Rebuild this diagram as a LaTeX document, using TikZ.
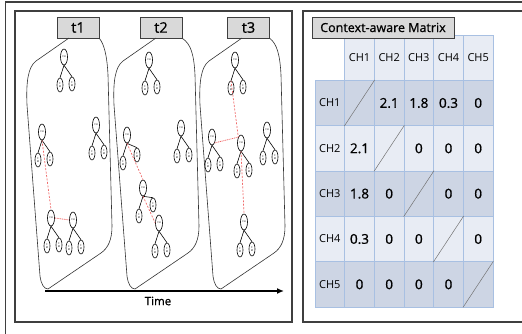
\documentclass[tikz,border=0pt]{standalone}
\usepackage{fontspec}
\setmainfont{Open Sans}[BoldFont=Open Sans,BoldFeatures={FakeBold=0.9}]
\usetikzlibrary{shapes.geometric,calc,arrows.meta}

\definecolor{framegray}{HTML}{3F3F3F}
\definecolor{tabgray}{HTML}{D9D9D9}
\definecolor{rowdark}{HTML}{CDD5E4}
\definecolor{rowlight}{HTML}{E8ECF4}
\definecolor{gridblue}{HTML}{A8C0E2}
\definecolor{linkred}{HTML}{F06A6A}

% one cluster: head CH with two members
\newcommand{\chtree}[3][8,27]{%
  \node[chroot] (#2) at (#3) {CH};
  \node[chleaf] (#2l) at ($(#2)+(-4,28)$) {C\\M};
  \node[chleaf] (#2r) at ($(#2)+(#1)$) {C\\M};
  \draw[treeedge] (#2.south) -- (#2l.north);
  \draw[treeedge] (#2.south) -- (#2r.north);
}

\begin{document}
\begin{tikzpicture}[x=1pt,y=-1pt,
  every node/.style={inner sep=0pt},
  chroot/.style={draw,ellipse,line width=0.6pt,fill=white,minimum width=7pt,minimum height=16pt,font=\fontsize{2.5}{2.8}\selectfont},
  chleaf/.style={draw,ellipse,line width=0.6pt,fill=white,minimum width=6pt,minimum height=14pt,align=center,font=\fontsize{2.5}{2.8}\selectfont},
  treeedge/.style={line width=0.6pt},
  redlink/.style={linkred,line width=0.7pt,dash pattern=on 2pt off 1.5pt},
  reddot/.style={linkred,line width=0.8pt,dash pattern=on 1pt off 0.8pt},
  slab/.style={line width=0.6pt,black!80},
  tabbox/.style={draw=framegray,line width=0.8pt,fill=tabgray,minimum width=42pt,minimum height=21pt,font=\fontsize{14.5}{16}\selectfont\bfseries},
  cell/.style={draw=gridblue,line width=0.6pt,minimum width=29.67pt,minimum height=45.33pt},
  diag/.style={black!55,line width=0.5pt}]
\useasboundingbox (0,0) rectangle (522,333);
\clip (0,0) rectangle (522,333);

% frames
\draw[framegray,line width=1.8pt] (5.5,345) -- (5.5,2) -- (540,2);
\draw[framegray,line width=1.2pt] (15,11) rectangle (292,322);
\draw[framegray,line width=1.2pt] (303,11) rectangle (540,322);

% time slots
\node[tabbox] (tab1) at (78,27.5) {t1};
\node[tabbox] (tab2) at (161,27.5) {t2};
\node[tabbox] (tab3) at (248.5,27.5) {t3};

\foreach \s/\t in {0/1,87/2,173/3} {
  \begin{scope}[xshift=\s pt]
    \draw[slab] (69,38) -- (36,61) .. controls (28,67) and (26,82) .. (27,105)
      -- (40,276) .. controls (41,284) and (44,289) .. (48,289)
      -- (101,253) .. controls (108,248) and (112,240) .. (112,226)
      -- (108,75) .. controls (107,55) and (104,44) .. (tab\t.south east);
  \end{scope}
}

% t1
\chtree{t1a}{64,57}
\chtree{t1b}{42,132}
\chtree{t1c}{96,125}
\chtree{t1d}{51,218}
\chtree{t1e}{73,220}
\draw[redlink] (t1b.south) -- (t1d.north);
\draw[reddot] (t1d.east) -- (t1e.west);

% t2
\chtree{t2a}{149,60}
\chtree[10,20]{t2b}{127,135}
\chtree{t2c}{181,128}
\chtree[10,17]{t2d}{143,188}
\chtree{t2e}{159,223}
\draw[redlink] (t2b.south) -- (t2d.north);
\draw[redlink] (t2d.south) -- (t2e.west);

% t3
\chtree{t3a}{235,60}
\chtree{t3b}{212,137}
\chtree{t3c}{241,143}
\chtree{t3d}{267,130}
\chtree{t3e}{244,222}
\draw[redlink] (t3al.north) -- (t3c.north west);
\draw[reddot] (t3b.south east) -- (t3c.north west);
\draw[redlink] (t3c.south) -- (t3e.north);

% time axis
\coordinate (tstart) at (45,291);
\coordinate (tend) at (284,291);
\draw[line width=1.8pt,-{Latex[length=7pt,width=6pt]}] (tstart) -- (tend);
\node[font=\fontsize{11.5}{13}\selectfont\bfseries] (timelbl) at (158,301) {Time};

% matrix
\foreach \c/\lab in {1/CH1,2/CH2,3/CH3,4/CH4,5/CH5}
  \node[cell,fill=rowlight,font=\fontsize{11}{13}\selectfont] (h\c) at ({315+29.67*(\c+0.5)},{35+45.33*0.5}) {\lab};
\foreach \r/\vals in {1/{CH1,,2.1,1.8,0.3,0},2/{CH2,2.1,,0,0,0},3/{CH3,1.8,0,,0,0},4/{CH4,0.3,0,0,,0},5/{CH5,0,0,0,0,}} {
  \ifodd\r \def\cellfill{rowdark}\else \def\cellfill{rowlight}\fi
  \foreach \v [count=\c from 0] in \vals {
    \ifnum\c=0 \def\cellfont{\fontsize{11}{13}\selectfont}\else \def\cellfont{\fontsize{13.5}{15}\selectfont\bfseries}\fi
    \node[cell,fill=\cellfill,font=\cellfont] (m\r\c) at ({315+29.67*(\c+0.5)},{35+45.33*(\r+0.5)}) {\v};
  }
}
\foreach \i in {1,...,5}
  \draw[diag] (m\i\i.south west) -- (m\i\i.north east);

\node[tabbox,minimum width=142pt,font=\fontsize{12.5}{14}\selectfont\bfseries] (mtitle) at (383,27.5) {Context-aware Matrix};
\end{tikzpicture}
\end{document}
